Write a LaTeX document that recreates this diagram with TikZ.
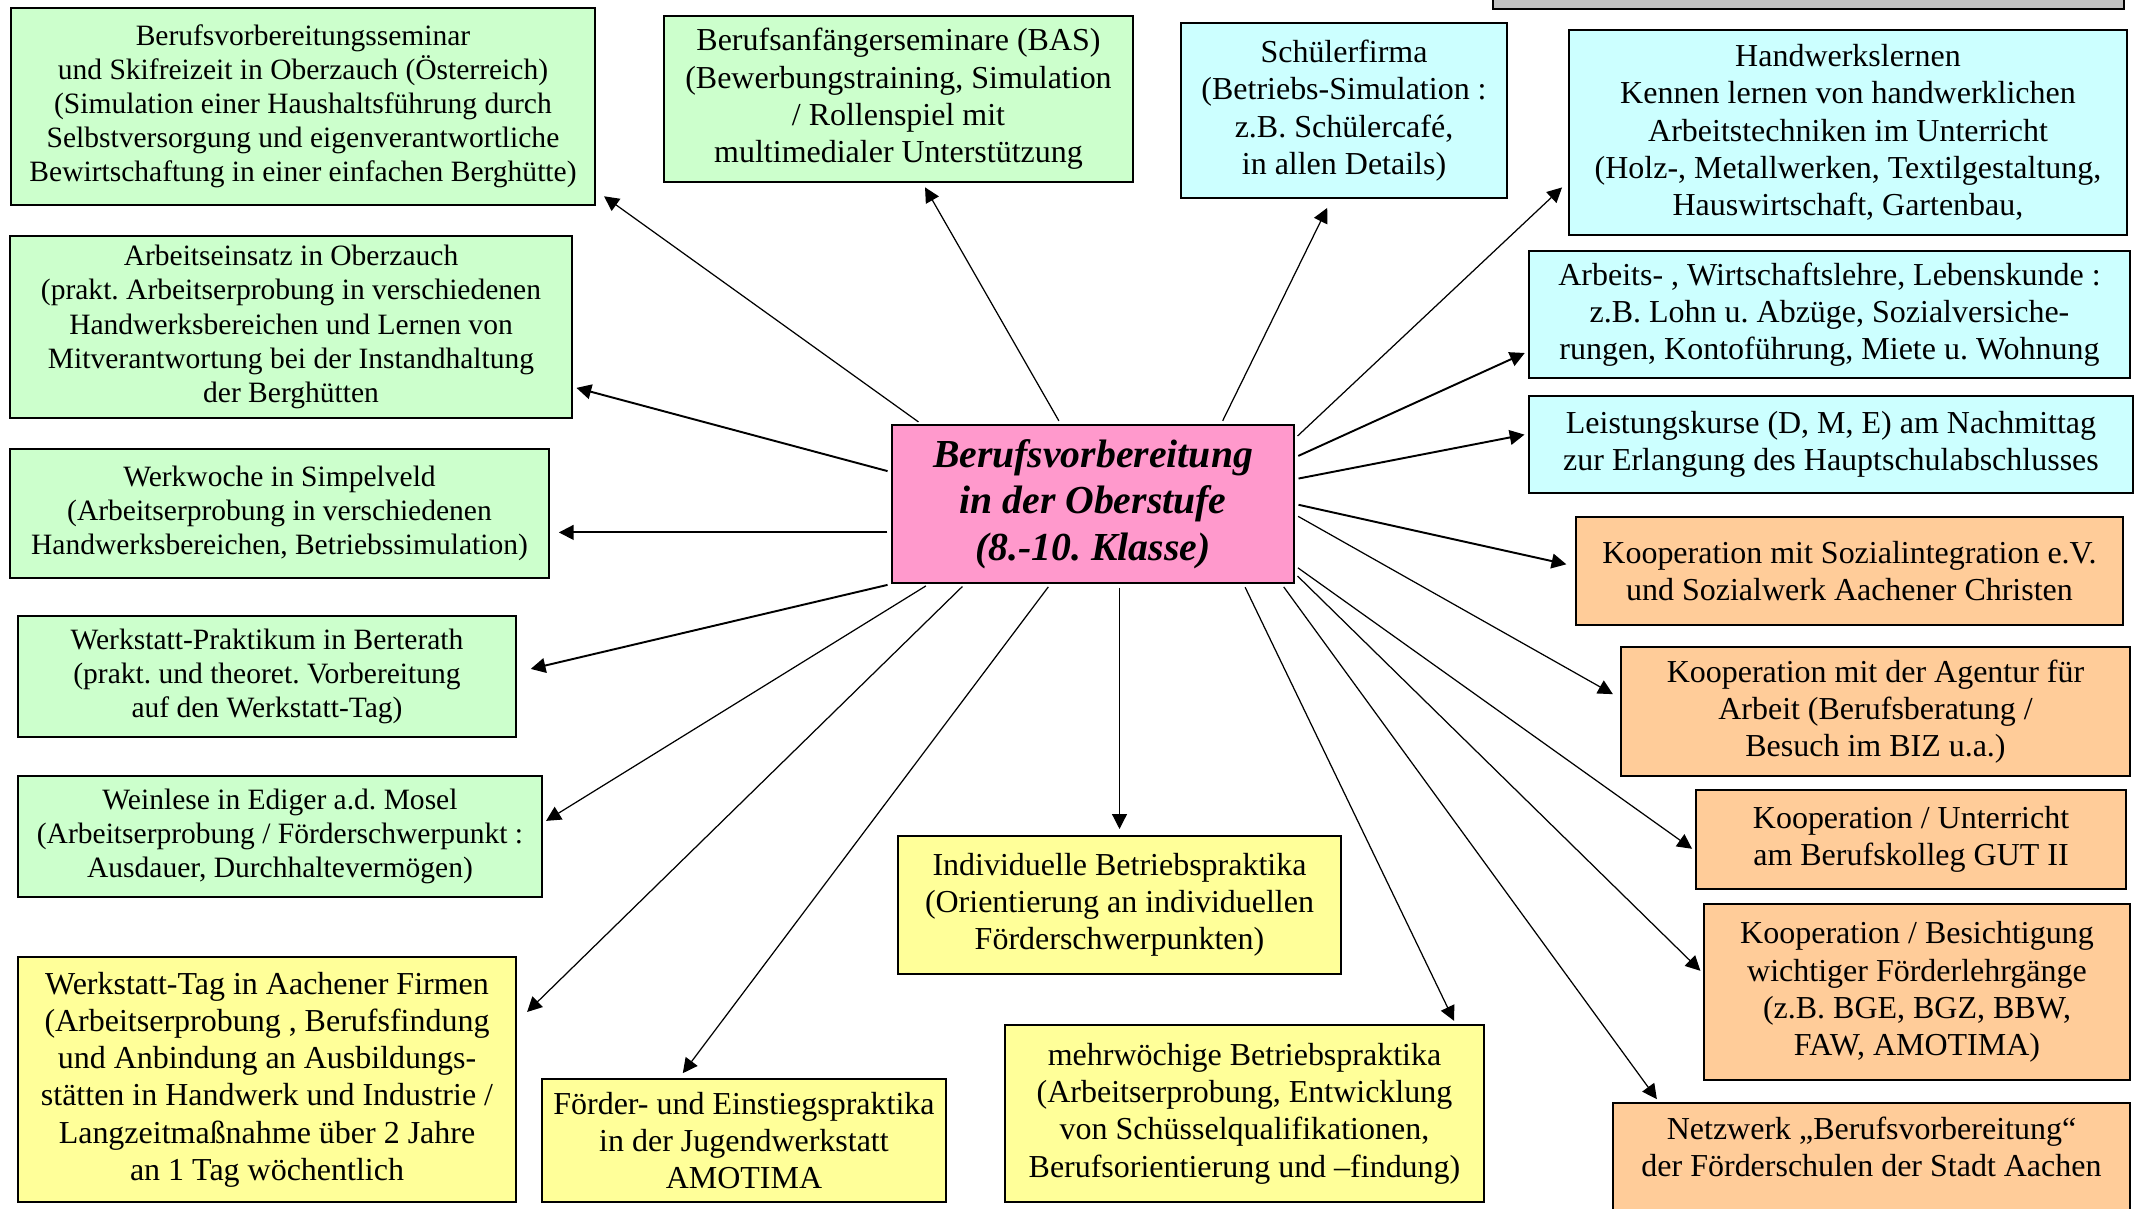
\documentclass[tikz,border=0pt]{standalone}
\usepackage{fontspec}
\setmainfont{Liberation Serif}
\usepackage{tikz}
\usetikzlibrary{arrows.meta}
\definecolor{gruen}{HTML}{CCFFCC}
\definecolor{tuerkis}{HTML}{CCFFFF}
\definecolor{lachs}{HTML}{FFCC99}
\definecolor{gelb}{HTML}{FFFF99}
\definecolor{rosa}{HTML}{FF99CC}
\definecolor{grau}{HTML}{C0C0C0}
\frenchspacing
\tikzset{
  kasten/.style={draw, line width=0.6pt, inner sep=0pt, align=center, font=\fontsize{9.1}{10.6}\selectfont},
  klein/.style={font=\fontsize{8.4}{9.7}\selectfont},
  pfeil/.style={-{Triangle[length=4.2pt,width=4.2pt]}, line width=0.35pt, shorten >=1pt, shorten <=1pt},
  dick/.style={line width=0.55pt},
}

\begin{document}
\begin{tikzpicture}
\clip[use as bounding box] (0,0) rectangle (21.41,-12.08);
\node[kasten, fill=grau, minimum width=6.31cm, minimum height=0.5cm, anchor=south west] (leiste) at (14.92,-0.10) {};
\node[kasten, klein, fill=gruen, minimum width=5.84cm, minimum height=1.97cm] (seminar) at (3.03,-1.065)
  {Berufsvorbereitungsseminar\\ und Skifreizeit in Oberzauch (Österreich)\\ (Simulation einer Haushaltsführung durch\\ Selbstversorgung und eigenverantwortliche\\ Bewirtschaftung in einer einfachen Berghütte)};
\node[kasten, fill=gruen, minimum width=4.69cm, minimum height=1.66cm] (bas) at (8.985,-0.99)
  {Berufsanfängerseminare (BAS)\\ (Bewerbungstraining, Simulation\\ / Rollenspiel mit\\ multimedialer Unterstützung};
\node[kasten, fill=tuerkis, minimum width=3.26cm, minimum height=1.75cm] (firma) at (13.44,-1.105)
  {Schülerfirma\\ (Betriebs-Simulation :\\ z.B. Schülercafé,\\ in allen Details)};
\node[kasten, fill=tuerkis, minimum width=5.58cm, minimum height=2.05cm] (handwerk) at (18.48,-1.325)
  {Handwerkslernen\\ Kennen lernen von handwerklichen\\ Arbeitstechniken im Unterricht\\ (Holz-, Metallwerken, Textilgestaltung,\\ Hauswirtschaft, Gartenbau,};
\node[kasten, fill=tuerkis, minimum width=6.01cm, minimum height=1.27cm] (wirtschaft) at (18.295,-3.145)
  {Arbeits- , Wirtschaftslehre, Lebenskunde :\\ z.B. Lohn u. Abzüge, Sozialversiche-\\ rungen, Kontoführung, Miete u. Wohnung};
\node[kasten, fill=tuerkis, minimum width=6.04cm, minimum height=0.97cm] (leistung) at (18.31,-4.445)
  {Leistungskurse (D, M, E) am Nachmittag\\ zur Erlangung des Hauptschulabschlusses};
\node[kasten, klein, fill=gruen, minimum width=5.62cm, minimum height=1.82cm] (einsatz) at (2.91,-3.27)
  {Arbeitseinsatz in Oberzauch\\ (prakt. Arbeitserprobung in verschiedenen\\ Handwerksbereichen und Lernen von\\ Mitverantwortung bei der Instandhaltung\\ der Berghütten};
\node[kasten, klein, fill=gruen, minimum width=5.39cm, minimum height=1.29cm] (werkwoche) at (2.795,-5.135)
  {Werkwoche in Simpelveld\\ (Arbeitserprobung in verschiedenen\\ Handwerksbereichen, Betriebssimulation)};
\node[kasten, fill=rosa, minimum width=4.02cm, minimum height=1.58cm, font=\fontsize{11.3}{13.2}\selectfont\bfseries\itshape] (hub) at (10.93,-5.04)
  {Berufsvorbereitung\\ in der Oberstufe\\ (8.-10. Klasse)};
\node[kasten, fill=lachs, minimum width=5.47cm, minimum height=1.08cm] (sozial) at (18.495,-5.71)
  {Kooperation mit Sozialintegration e.V.\\ und Sozialwerk Aachener Christen};
\node[kasten, klein, fill=gruen, minimum width=4.98cm, minimum height=1.21cm] (praktikum) at (2.67,-6.765)
  {Werkstatt-Praktikum in Berterath\\ (prakt. und theoret. Vorbereitung\\ auf den Werkstatt-Tag)};
\node[kasten, fill=lachs, minimum width=5.09cm, minimum height=1.29cm] (agentur) at (18.755,-7.115)
  {Kooperation mit der Agentur für\\ Arbeit (Berufsberatung /\\ Besuch im BIZ u.a.)};
\node[kasten, klein, fill=gruen, minimum width=5.24cm, minimum height=1.21cm] (weinlese) at (2.80,-8.365)
  {Weinlese in Ediger a.d. Mosel\\ (Arbeitserprobung / Förderschwerpunkt :\\ Ausdauer, Durchhaltevermögen)};
\node[kasten, fill=lachs, minimum width=4.30cm, minimum height=0.99cm] (unterricht) at (19.11,-8.395)
  {Kooperation / Unterricht\\ am Berufskolleg GUT II};
\node[kasten, fill=gelb, minimum width=4.43cm, minimum height=1.38cm] (indiv) at (11.195,-9.05)
  {Individuelle Betriebspraktika\\ (Orientierung an individuellen\\ Förderschwerpunkten)};
\node[kasten, fill=lachs, minimum width=4.26cm, minimum height=1.76cm] (besicht) at (19.17,-9.92)
  {Kooperation / Besichtigung\\ wichtiger Förderlehrgänge\\ (z.B. BGE, BGZ, BBW,\\ FAW, AMOTIMA)};
\node[kasten, fill=gelb, minimum width=4.98cm, minimum height=2.45cm] (werktag) at (2.67,-10.795)
  {Werkstatt-Tag in Aachener Firmen\\ (Arbeitserprobung , Berufsfindung\\ und Anbindung an Ausbildungs-\\ stätten in Handwerk und Industrie /\\ Langzeitmaßnahme über 2 Jahre\\ an 1 Tag wöchentlich};
\node[kasten, fill=gelb, minimum width=4.04cm, minimum height=1.23cm] (foerder) at (7.44,-11.405)
  {Förder- und Einstiegspraktika\\ in der Jugendwerkstatt\\ AMOTIMA};
\node[kasten, fill=gelb, minimum width=4.79cm, minimum height=1.77cm] (mehr) at (12.445,-11.135)
  {mehrwöchige Betriebspraktika\\ (Arbeitserprobung, Entwicklung\\ von Schüsselqualifikationen,\\ Berufsorientierung und –findung)};
\node[kasten, fill=lachs, minimum width=5.17cm, minimum height=1.36cm] (netz) at (18.715,-11.71)
  {Netzwerk „Berufsvorbereitung“\\ der Förderschulen der Stadt Aachen\\ \strut};

\draw[pfeil, shorten >=2.8pt] (hub.155) -- (seminar.-16);
\draw[pfeil, shorten >=1.4pt] (hub.112) -- (bas.-74);
\draw[pfeil, shorten >=2.8pt] (hub.32) -- (firma.262);
\draw[pfeil, shorten >=2.3pt] (hub.18) -- (handwerk.190);
\draw[pfeil, dick] (hub.13.5) -- (wirtschaft.187);
\draw[pfeil, dick] (hub.7) -- (leistung.178);
\draw[pfeil, dick, shorten >=2.5pt] (hub.0) -- (sozial.179);
\draw[pfeil, shorten >=2.3pt] (hub.-3.4) -- (agentur.177);
\draw[pfeil] (hub.-17) -- (unterricht.183);
\draw[pfeil] (hub.-19.5) -- (besicht.175.5);
\draw[pfeil] (hub.-23.5) -- (netz.162);
\draw[pfeil] (hub.-28.6) -- (mehr.23);
\draw[pfeil, shorten >=1.7pt] (indiv.north |- hub.south) -- (indiv.north);
\draw[pfeil, shorten >=1.7pt] (hub.242) -- (foerder.136);
\draw[pfeil, shorten >=4pt] (hub.212) -- (werktag.13.6);
\draw[pfeil] (hub.206) -- (weinlese.3.3);
\draw[pfeil, dick, shorten >=4pt] (hub.south west) -- (praktikum.1);
\draw[pfeil, dick, shorten >=2.5pt] (hub.188) -- (werkwoche.east |- hub.188);
\draw[pfeil, dick] (hub.171) -- (einsatz.-12.4);
\end{tikzpicture}
\end{document}
